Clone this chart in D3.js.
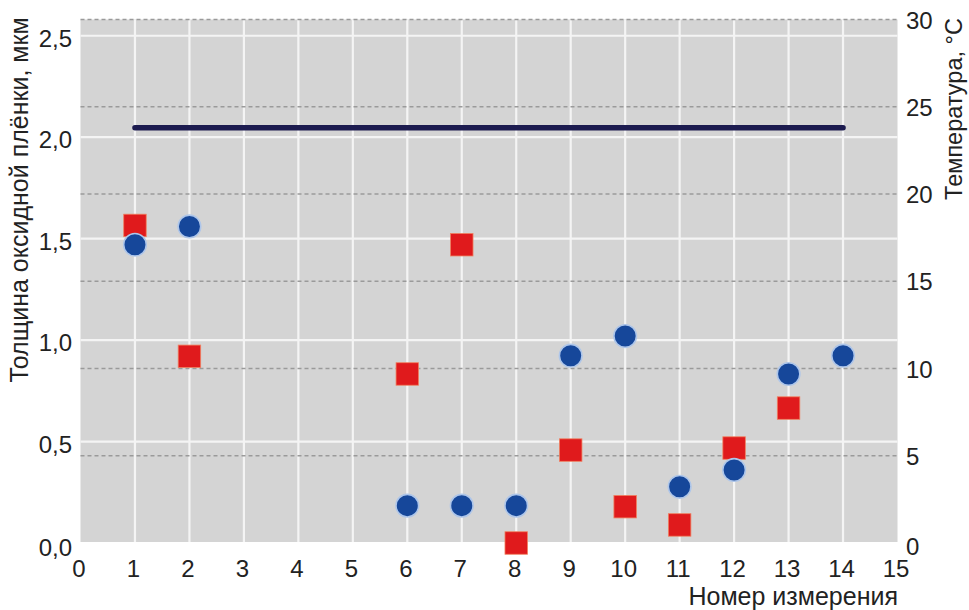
<!DOCTYPE html>
<html><head><meta charset="utf-8">
<script src="https://cdn.jsdelivr.net/npm/d3@7/dist/d3.min.js"></script>
<style>
body{margin:0;background:#fff;}
text{font-family:"Liberation Sans",Arial,sans-serif;fill:#222;}
</style></head>
<body><svg id="c" width="969" height="610"></svg>
<script>
const measurements = [1,2,3,4,5,6,7,8,9,10,11,12,13,14];
const circleX = [1,2,6,7,8,9,10,11,12,13,14];
const circleY = [1.47,1.56,0.184,0.184,0.184,0.923,1.02,0.277,0.36,0.833,0.923];
const squareX = [1,2,6,7,8,9,10,11,12,13];
const squareY = [1.565,0.92,0.833,1.47,0.0,0.458,0.179,0.089,0.468,0.665];
const tempLineX = [1,14];
const tempLineY = [23.8,23.8];
const xTicks = [0,1,2,3,4,5,6,7,8,9,10,11,12,13,14,15];
const leftTicks = [0,0.5,1.0,1.5,2.0,2.5];
const leftTickLabels = ["0,0","0,5","1,0","1,5","2,0","2,5"];
const rightTicks = [0,5,10,15,20,25,30];
const xTitle = "Номер измерения";
const leftTitle = "Толщина оксидной плёнки, мкм";
const rightTitle = "Температура, °C";

const svg = d3.select("#c");
const L = 80.5, R = 897.5, T = 19.5, B = 543;
const x = d3.scaleLinear().domain([0,15]).range([L,R]);
const yL = d3.scaleLinear().domain([0,2.58]).range([B,T]);
const yR = d3.scaleLinear().domain([0,30]).range([B,T]);

// background
svg.append("rect").attr("x",L).attr("y",T).attr("width",R-L).attr("height",B-T-1).attr("fill","#d4d4d4");

// white horizontal grid (left ticks)
svg.append("g").selectAll("line").data(leftTicks.filter(d=>d>0)).join("line")
  .attr("x1",L).attr("x2",R).attr("y1",d=>yL(d)).attr("y2",d=>yL(d))
  .attr("stroke","#f4f4f4").attr("stroke-width",2.2);
// white vertical grid
svg.append("g").selectAll("line").data(xTicks.filter(d=>d>0&&d<15)).join("line")
  .attr("x1",d=>x(d)).attr("x2",d=>x(d)).attr("y1",T).attr("y2",B-1)
  .attr("stroke","#f4f4f4").attr("stroke-width",2.2);
// dashed grid (right ticks)
svg.append("g").selectAll("line").data(rightTicks.filter(d=>d>0)).join("line")
  .attr("x1",L).attr("x2",R).attr("y1",d=>yR(d)).attr("y2",d=>yR(d))
  .attr("stroke","#9a9a9a").attr("stroke-width",1.5).attr("stroke-dasharray","4,3");

// temperature line
svg.append("path").datum(tempLineX.map((d,i)=>[d,tempLineY[i]]))
  .attr("d",d3.line().x(d=>x(d[0])).y(d=>yR(d[1])))
  .attr("stroke","#1c1b4f").attr("stroke-width",5.5).attr("fill","none").attr("stroke-linecap","round");

// squares
const S = 22.5;
svg.append("g").selectAll("rect").data(squareX.map((d,i)=>[d,squareY[i]])).join("rect")
  .attr("x",d=>x(d[0])-S/2).attr("y",d=>yL(d[1])-S/2).attr("width",S).attr("height",S)
  .attr("fill","#e01a1c").attr("stroke","#f08060").attr("stroke-width",0.8);
// circles
svg.append("g").selectAll("circle").data(circleX.map((d,i)=>[d,circleY[i]])).join("circle")
  .attr("cx",d=>x(d[0])).attr("cy",d=>yL(d[1])).attr("r",11.3)
  .attr("fill","#16479a").attr("stroke","#aec6ea").attr("stroke-width",1.6);

// axes
const fs = 24;
const xAxis = d3.axisBottom(x).tickValues(xTicks).tickSize(0).tickPadding(0);
const gx = svg.append("g").attr("transform",`translate(-2,${B})`).call(xAxis);
gx.select(".domain").remove();
gx.selectAll("text").attr("dy",null).attr("y",34).style("font-size",fs+"px").attr("fill","#222");

const lAxis = d3.axisLeft(yL).tickValues(leftTicks).tickFormat((d,i)=>leftTickLabels[i]).tickSize(0).tickPadding(0);
const gl = svg.append("g").attr("transform",`translate(72,2)`).call(lAxis);
gl.select(".domain").remove();
gl.selectAll("text").attr("dy","0.36em").attr("x",0).style("font-size",fs+"px").attr("fill","#222");
gl.selectAll("text").filter(d=>d===0).attr("y",2);

const rAxis = d3.axisRight(yR).tickValues(rightTicks).tickSize(0).tickPadding(0);
const gr = svg.append("g").attr("transform",`translate(906,0)`).call(rAxis);
gr.select(".domain").remove();
gr.selectAll("text").attr("dy","0.36em").attr("x",0).style("font-size",fs+"px").attr("fill","#222");
gr.selectAll("text").filter(d=>d===0).attr("y",3);

// titles
svg.append("text").attr("x",898).attr("y",605).attr("text-anchor","end").style("font-size","25px").text(xTitle);
svg.append("text").attr("transform","translate(28,200) rotate(-90)").attr("text-anchor","middle").style("font-size","25px").text(leftTitle);
svg.append("text").attr("transform","translate(962,109) rotate(-90)").attr("text-anchor","middle").style("font-size","23.5px").text(rightTitle);
</script></body></html>
